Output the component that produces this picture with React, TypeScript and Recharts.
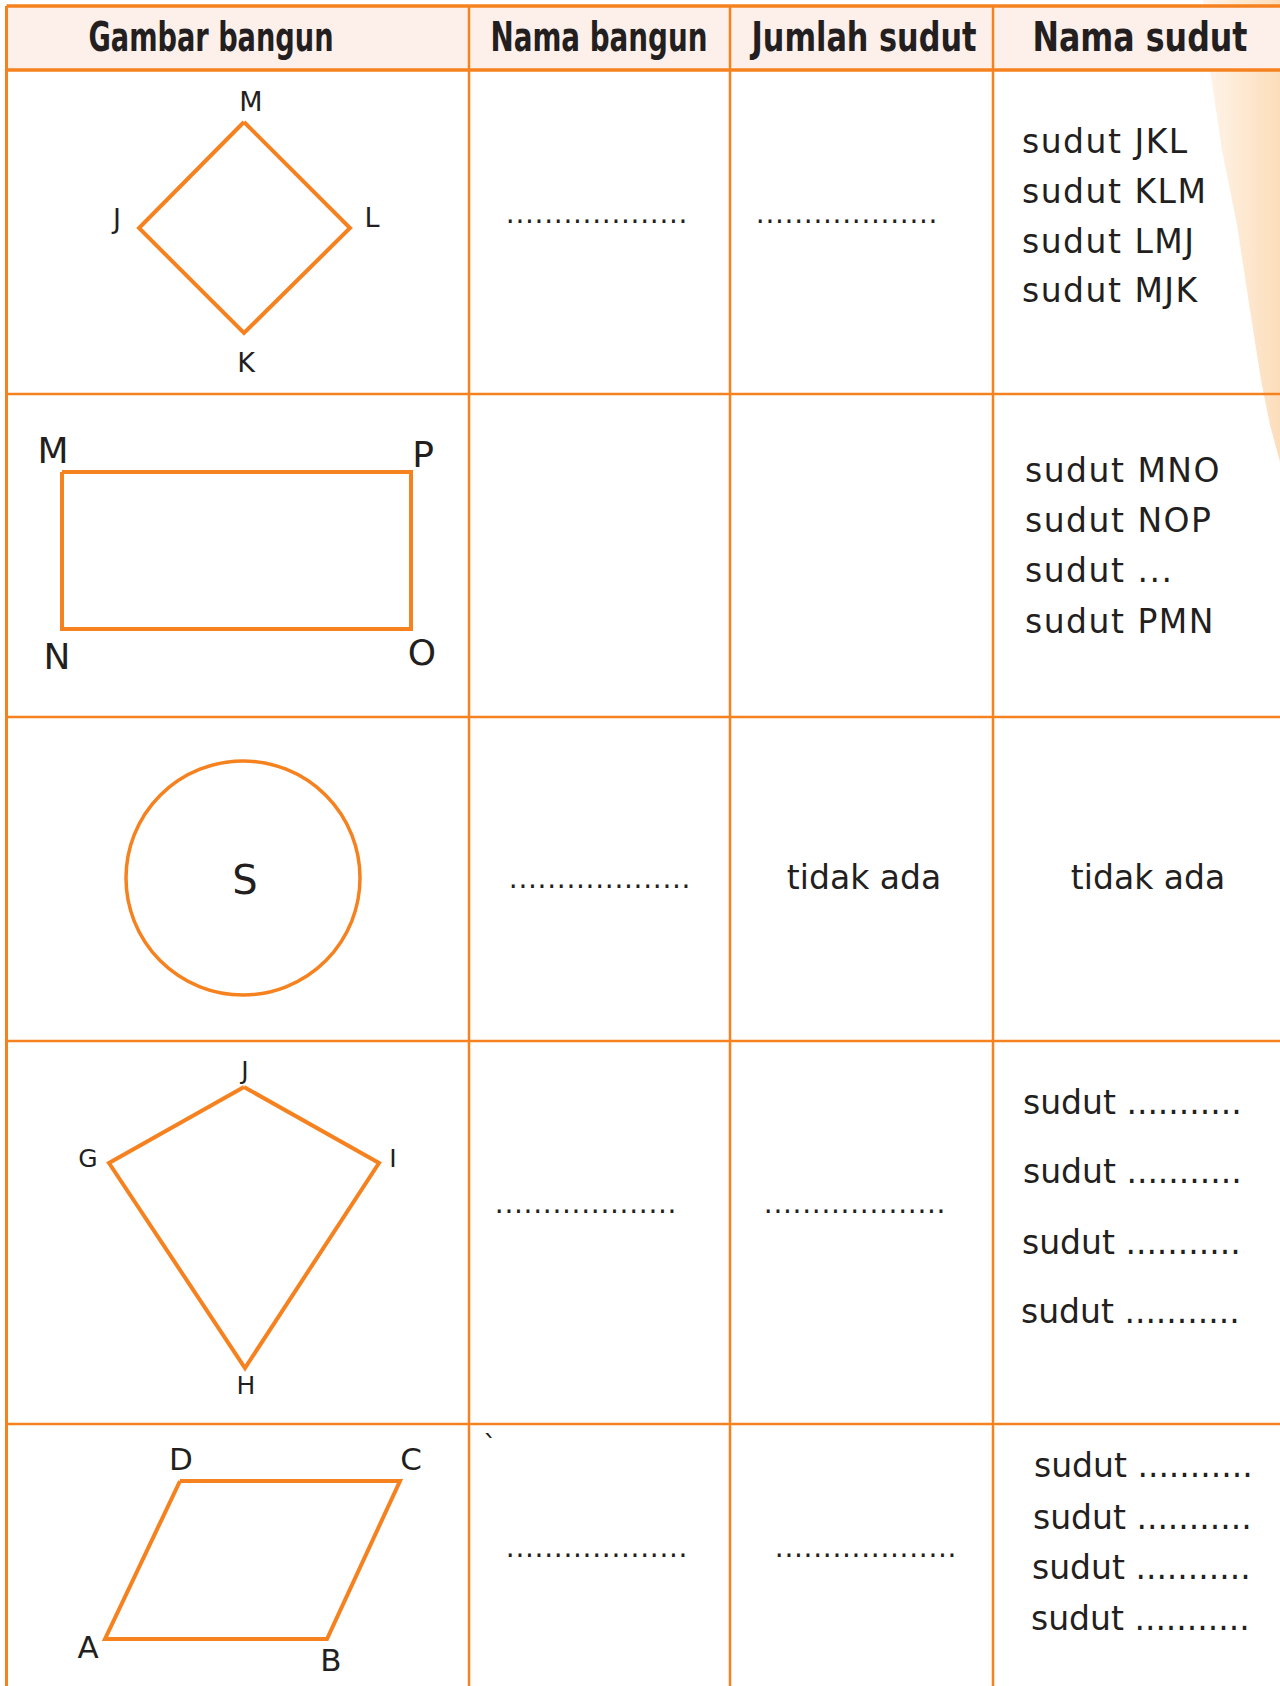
import React from "react"
import {
  ComposedChart, Area, Scatter, XAxis, YAxis, ReferenceLine, ReferenceArea,
} from "recharts"

const W = 1280
const H = 1686
const ORANGE = "#F5821F"
const INK = "#231F20"
const HAND = "'DejaVu Sans', sans-serif"
const HEAD = "'DejaVu Sans Condensed', 'DejaVu Sans', sans-serif"

// table grid (page units)
const colEdges = [6.5, 469, 730, 993]
const rowEdges = [394, 717, 1041, 1424]
const headerTop = 6
const headerBottom = 70

// header titles with the width each one takes in the picture
const headers = [
  { x: 211, y: 51, t: "Gambar bangun", w: 245 },
  { x: 599, y: 51, t: "Nama bangun", w: 217 },
  { x: 864, y: 51, t: "Jumlah sudut", w: 225 },
  { x: 1140, y: 51, t: "Nama sudut", w: 215 },
]

// shapes, vertex lists closed back to the first point
const rhombus = [
  { x: 244, y: 122 }, { x: 350, y: 228 }, { x: 244, y: 333 }, { x: 139, y: 228 }, { x: 244, y: 122 },
]
const rectangle = [
  { x: 62, y: 472 }, { x: 411, y: 472 }, { x: 411, y: 629 }, { x: 62, y: 629 }, { x: 62, y: 472 },
]
const circle = [{ x: 243, y: 878, r: 117 }]
const kite = [
  { x: 244, y: 1087 }, { x: 379, y: 1163 }, { x: 245, y: 1368 }, { x: 109, y: 1163 }, { x: 244, y: 1087 },
]
const parallelogram = [
  { x: 180, y: 1481 }, { x: 400, y: 1481 }, { x: 327, y: 1639 }, { x: 105, y: 1639 }, { x: 180, y: 1481 },
]

// vertex letters
const rhombusLabels = [
  { x: 251, y: 101, t: "M" }, { x: 117, y: 218, t: "J" }, { x: 372, y: 217, t: "L" }, { x: 246, y: 362, t: "K" },
]
const rectLabels = [
  { x: 53, y: 450, t: "M" }, { x: 423, y: 454, t: "P" }, { x: 57, y: 656, t: "N" }, { x: 422, y: 652, t: "O" },
]
const circleLabels = [{ x: 245, y: 880, t: "S" }]
const kiteLabels = [
  { x: 245, y: 1070, t: "J" }, { x: 88, y: 1158, t: "G" }, { x: 393, y: 1158, t: "I" }, { x: 246, y: 1385, t: "H" },
]
const paraLabels = [
  { x: 181, y: 1459, t: "D" }, { x: 411, y: 1459, t: "C" }, { x: 88, y: 1647, t: "A" }, { x: 331, y: 1660, t: "B" },
]

// dotted answer blanks in columns 2 and 3
const blanks = [
  { x: 597, y: 223, t: "..................." },
  { x: 847, y: 223, t: "..................." },
  { x: 600, y: 888, t: "..................." },
  { x: 586, y: 1213, t: "..................." },
  { x: 855, y: 1213, t: "..................." },
  { x: 597, y: 1557, t: "..................." },
  { x: 866, y: 1557, t: "..................." },
]
const stray = [{ x: 490, y: 1456, t: "`" }]

const tidakAda = [
  { x: 864, y: 877, t: "tidak ada" },
  { x: 1148, y: 877, t: "tidak ada" },
]

// column 4, angle names
const angleNames = [
  { x: 1022, y: 141, t: "sudut JKL" },
  { x: 1022, y: 191, t: "sudut KLM" },
  { x: 1022, y: 241, t: "sudut LMJ" },
  { x: 1022, y: 290, t: "sudut MJK" },
  { x: 1025, y: 470, t: "sudut MNO" },
  { x: 1025, y: 520, t: "sudut NOP" },
  { x: 1025, y: 570, t: "sudut ..." },
  { x: 1025, y: 621, t: "sudut PMN" },
]
const angleBlanks = [
  { x: 1023, y: 1102, t: "sudut ..........." },
  { x: 1023, y: 1171, t: "sudut ..........." },
  { x: 1022, y: 1242, t: "sudut ..........." },
  { x: 1021, y: 1311, t: "sudut ..........." },
  { x: 1034, y: 1465, t: "sudut ..........." },
  { x: 1033, y: 1517, t: "sudut ..........." },
  { x: 1032, y: 1567, t: "sudut ..........." },
  { x: 1031, y: 1618, t: "sudut ..........." },
]

// peach page-edge decoration, top right
const edgeBand = [
  { x: 1203, band: [0, 0] },
  { x: 1210, band: [0, 70] },
  { x: 1222, band: [0, 150] },
  { x: 1237, band: [0, 225] },
  { x: 1250, band: [0, 310] },
  { x: 1261, band: [0, 380] },
  { x: 1270, band: [0, 425] },
  { x: 1280, band: [0, 462] },
]

type TextStyle = {
  size: number
  anchor?: "start" | "middle" | "end"
  family?: string
  weight?: number
  baseline?: "central" | "auto"
  spacing?: number
}

function textShape(s: TextStyle) {
  return (p: any) => (
    <text
      x={p.cx}
      y={p.cy}
      fontSize={s.size}
      fontFamily={s.family ?? HAND}
      fontWeight={s.weight ?? 400}
      textAnchor={s.anchor ?? "middle"}
      dominantBaseline={s.baseline ?? "central"}
      letterSpacing={s.spacing ?? 0}
      textLength={p.payload.w}
      lengthAdjust={p.payload.w ? "spacingAndGlyphs" : undefined}
      fill={INK}
    >
      {p.payload.t}
    </text>
  )
}

const noDot = () => <g />
const outline = { stroke: ORANGE, strokeWidth: 4, strokeLinejoin: "miter" as const, fill: "none" }

export default function App() {
  return (
    <div style={{ position: "absolute", left: 0, top: 0, width: W, height: H, background: "#fff" }}>
      <ComposedChart width={W} height={H} data={edgeBand} margin={{ top: 0, right: 0, bottom: 0, left: 0 }}>
        <defs>
          <linearGradient id="peach" x1="0" y1="0" x2="1" y2="0">
            <stop offset="0%" stopColor="#FEF5EC" />
            <stop offset="100%" stopColor="#FCDDBA" />
          </linearGradient>
        </defs>
        <XAxis dataKey="x" type="number" domain={[0, W]} hide allowDataOverflow />
        <YAxis dataKey="y" type="number" domain={[0, H]} reversed hide allowDataOverflow />

        <Area dataKey="band" type="linear" stroke="none" fill="url(#peach)" fillOpacity={1} isAnimationActive={false} />

        <ReferenceArea x1={colEdges[0]} x2={W} y1={headerTop} y2={headerBottom} fill="#FDF0EB" fillOpacity={1} stroke="none" />

        {colEdges.map((c) => (
          <ReferenceLine key={"c" + c} segment={[{ x: c, y: headerTop }, { x: c, y: H }]} stroke={ORANGE} strokeWidth={c === colEdges[0] ? 3 : 2.5} />
        ))}
        {rowEdges.map((r) => (
          <ReferenceLine key={"r" + r} segment={[{ x: colEdges[0], y: r }, { x: W, y: r }]} stroke={ORANGE} strokeWidth={2.5} />
        ))}
        <ReferenceLine segment={[{ x: colEdges[0], y: headerTop }, { x: W, y: headerTop }]} stroke={ORANGE} strokeWidth={3.5} />
        <ReferenceLine segment={[{ x: colEdges[0], y: headerBottom }, { x: W, y: headerBottom }]} stroke={ORANGE} strokeWidth={3.5} />

        <Scatter data={rhombus} line={outline} lineJointType="linear" shape={noDot} isAnimationActive={false} />
        <Scatter data={rectangle} line={outline} lineJointType="linear" shape={noDot} isAnimationActive={false} />
        <Scatter data={kite} line={outline} lineJointType="linear" shape={noDot} isAnimationActive={false} />
        <Scatter data={parallelogram} line={outline} lineJointType="linear" shape={noDot} isAnimationActive={false} />
        <Scatter
          data={circle}
          isAnimationActive={false}
          shape={(p: any) => <circle cx={p.cx} cy={p.cy} r={p.payload.r} stroke={ORANGE} strokeWidth={3.5} fill="none" />}
        />

        <Scatter data={headers} isAnimationActive={false} shape={textShape({ size: 40, family: HEAD, weight: 700, baseline: "auto" })} />

        <Scatter data={rhombusLabels} isAnimationActive={false} shape={textShape({ size: 27 })} />
        <Scatter data={rectLabels} isAnimationActive={false} shape={textShape({ size: 36 })} />
        <Scatter data={circleLabels} isAnimationActive={false} shape={textShape({ size: 40 })} />
        <Scatter data={kiteLabels} isAnimationActive={false} shape={textShape({ size: 25 })} />
        <Scatter data={paraLabels} isAnimationActive={false} shape={textShape({ size: 31 })} />

        <Scatter data={blanks} isAnimationActive={false} shape={textShape({ size: 28, baseline: "auto", spacing: 0.7 })} />
        <Scatter data={stray} isAnimationActive={false} shape={textShape({ size: 28, baseline: "auto" })} />
        <Scatter data={tidakAda} isAnimationActive={false} shape={textShape({ size: 33 })} />
        <Scatter data={angleNames} isAnimationActive={false} shape={textShape({ size: 33, anchor: "start", spacing: 1.5 })} />
        <Scatter data={angleBlanks} isAnimationActive={false} shape={textShape({ size: 33, anchor: "start" })} />
      </ComposedChart>
    </div>
  )
}
